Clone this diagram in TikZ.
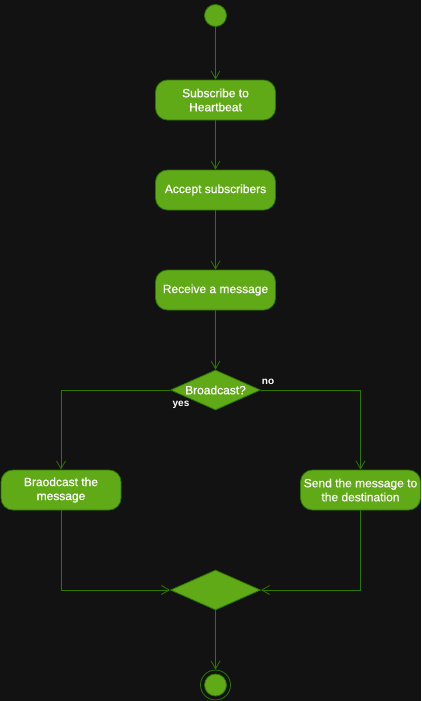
\documentclass[tikz,border=0pt]{standalone}
\usepackage{fontspec}
\setmainfont{Liberation Sans}
\newfontfamily\boxfont{Liberation Sans}[FakeBold=0.6]
\usetikzlibrary{arrows.meta,shapes.geometric}
\definecolor{bg}{HTML}{121212}
\definecolor{gfill}{HTML}{60A917}
\definecolor{gline}{HTML}{2D7600}
\begin{document}
\begin{tikzpicture}[x=1pt,y=-1pt,
  every node/.style={font=\boxfont\fontsize{12}{14}\selectfont, text=white},
  action/.style={draw=gline, fill=gfill, rounded corners=12pt, minimum width=120pt, minimum height=40pt, align=center, inner sep=0pt, line width=0.8pt},
  decision/.style={draw=gline, fill=gfill, diamond, minimum width=90pt, minimum height=40pt, inner sep=0pt, line width=0.8pt},
  startnode/.style={circle, draw=gline, fill=gfill, minimum size=22pt, inner sep=0pt, line width=0.8pt},
  endouter/.style={circle, draw=gline, minimum size=30pt, inner sep=0pt, line width=0.8pt},
  endinner/.style={circle, draw=gline, fill=gfill, minimum size=22pt, inner sep=0pt, line width=0.8pt},
  flow/.style={draw=gline, line width=0.8pt, -{Straight Barb[length=8pt,width=9pt]}},
  lbl/.style={font=\fontsize{10}{12}\selectfont\bfseries, text=white}
]
\fill[bg] (0,0) rectangle (421,701);
\useasboundingbox (0,0) rectangle (421,701);

\node[startnode] (start) at (215.5,15.5) {};
\node[action] (a1) at (215.5,100) {Subscribe to\\Heartbeat};
\node[action] (a2) at (215.5,190) {Accept subscribers};
\node[action] (a3) at (215.5,290) {Receive a message};
\node[decision] (d1) at (215.5,390) {};
\node (d1t) at (d1) {Broadcast?};
\node[action] (b1) at (61,490) {Braodcast the\\message};
\node[action] (b2) at (360.5,490) {Send the message to\\the destination};
\node[decision] (m1) at (215.5,590) {};
\node[endouter] (endo) at (215.5,685) {};
\node[endinner] (endi) at (215.5,685) {};

\node[lbl] (no) at (268,382) {no};
\node[lbl] (yes) at (181,405) {yes};

\draw[flow] (start) -- (a1);
\draw[flow] (a1) -- (a2);
\draw[flow] (a2) -- (a3);
\draw[flow] (a3) -- (d1);
\draw[flow] (d1.west) -| (b1.north);
\draw[flow] (d1.east) -| (b2.north);
\draw[flow] (b1.south) |- (m1.west);
\draw[flow] (b2.south) |- (m1.east);
\draw[flow] (m1.south) -- (endo.north);
\end{tikzpicture}
\end{document}
